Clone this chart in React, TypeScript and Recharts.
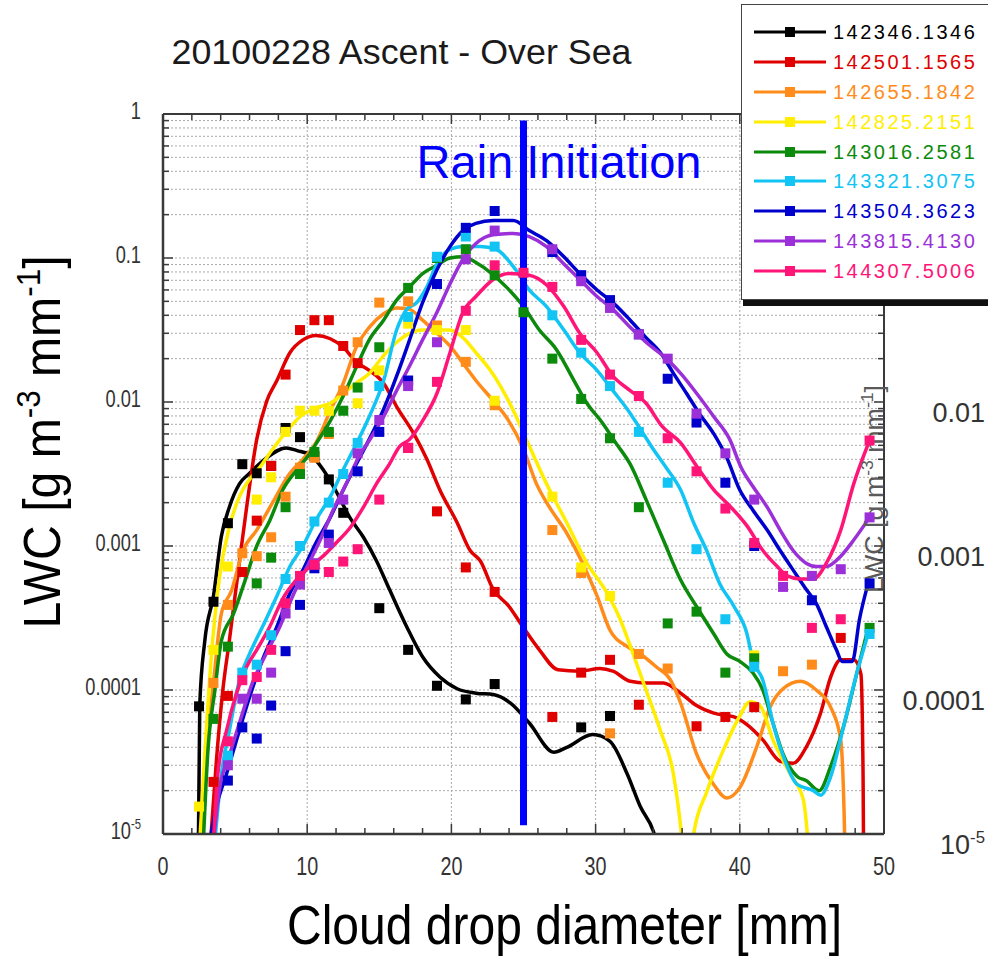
import React from 'react';
import { ComposedChart, Line, XAxis, YAxis, CartesianGrid, Legend, Label, LabelList } from 'recharts';

const FONT = "'Liberation Sans', Arial, Helvetica, sans-serif";
const FRAME = '#3a3a3a';

// Bin centres (x) and liquid water content per bin (y), one pair per marker
const blackBins = [[2.5, 7.7e-5], [3.5, 4.1e-4], [4.5, 1.44e-3], [5.5, 3.7e-3], [6.5, 3.2e-3], [7.5, 3.6e-3], [8.5, 6.6e-3], [9.5, 5.7e-3], [10.5, 4.2e-3], [11.5, 2.9e-3], [12.5, 1.7e-3], [15, 3.7e-4], [17, 1.9e-4], [19, 1.07e-4], [21, 8.6e-5], [23, 1.1e-4], [29, 5.5e-5], [31, 6.6e-5]];
const redBins = [[3.5, 2.3e-5], [4.5, 9.1e-5], [5.5, 6.6e-4], [6.5, 1.5e-3], [7.5, 3.6e-3], [8.5, 1.55e-2], [9.5, 3.16e-2], [10.5, 3.7e-2], [11.5, 3.7e-2], [12.5, 2.45e-2], [13.5, 1.86e-2], [17, 4.8e-3], [19, 1.74e-3], [21, 7.1e-4], [23, 4.8e-4], [27, 6.5e-5], [29, 1.32e-4], [31, 1.62e-4], [33, 7.9e-5], [37, 5.6e-5], [39, 6.5e-5], [41, 7.6e-5], [47, 2.3e-4]];
const orangeBins = [[3.5, 1.12e-4], [4.5, 3.9e-4], [5.5, 8.9e-4], [6.5, 8.5e-4], [7.5, 1.15e-3], [8.5, 2.2e-3], [9.5, 3.5e-3], [10.5, 4.1e-3], [11.5, 6.0e-3], [12.5, 1.2e-2], [13.5, 2.6e-2], [15, 4.9e-2], [17, 5.0e-2], [19, 3.4e-2], [21, 1.9e-2], [23, 9.5e-3], [27, 1.29e-3], [29, 6.5e-4], [31, 5.0e-5], [33, 1.78e-4], [35, 1.41e-4], [43, 1.35e-4], [45, 1.5e-4]];
const yellowBins = [[2.5, 1.55e-5], [3.5, 1.9e-4], [4.5, 7.2e-4], [6.5, 2.1e-3], [7.5, 3.0e-3], [8.5, 6.2e-3], [9.5, 8.7e-3], [10.5, 8.7e-3], [11.5, 8.7e-3], [13.5, 9.8e-3], [15, 1.66e-2], [17, 3.5e-2], [19, 3.16e-2], [21, 3.16e-2], [23, 1.02e-2], [27, 2.2e-3], [29, 7.1e-4], [31, 4.5e-4], [41, 1.74e-4]];
const greenBins = [[3.5, 6.3e-5], [4.5, 2.0e-4], [6.5, 5.5e-4], [7.5, 8.3e-4], [8.5, 1.86e-3], [9.5, 3.16e-3], [10.5, 4.5e-3], [11.5, 6.2e-3], [12.5, 8.7e-3], [13.5, 1.26e-2], [15, 2.4e-2], [17, 6.2e-2], [19, 0.1], [21, 0.115], [23, 7.6e-2], [25, 4.2e-2], [27, 2.0e-2], [29, 1.05e-2], [31, 5.6e-3], [33, 1.86e-3], [35, 2.9e-4], [37, 3.5e-4], [39, 1.32e-4], [41, 1.66e-4], [49, 2.7e-4]];
const cyanBins = [[4.5, 3.5e-5], [5.5, 1.32e-4], [6.5, 1.5e-4], [7.5, 2.4e-4], [8.5, 5.9e-4], [9.5, 1.0e-3], [10.5, 1.48e-3], [11.5, 2.0e-3], [12.5, 3.16e-3], [13.5, 5.2e-3], [15, 1.29e-2], [17, 3.9e-2], [19, 0.102], [21, 0.141], [23, 0.12], [27, 4.0e-2], [29, 2.2e-2], [31, 1.29e-2], [33, 6.2e-3], [35, 2.75e-3], [37, 9.5e-4], [39, 3.1e-4], [41, 1.45e-4], [49, 2.45e-4]];
const blueBins = [[4.5, 2.35e-5], [5.5, 5.5e-5], [6.5, 4.6e-5], [7.5, 7.8e-5], [8.5, 1.86e-4], [9.5, 3.9e-4], [10.5, 7.0e-4], [11.5, 1.2e-3], [13.5, 3.3e-3], [15, 6.2e-3], [17, 1.41e-2], [19, 6.6e-2], [21, 0.162], [23, 0.212], [27, 0.11], [29, 7.6e-2], [31, 5.1e-2], [33, 2.95e-2], [35, 1.45e-2], [37, 7.2e-3], [39, 2.75e-3], [41, 1.0e-3], [45, 4.2e-4], [49, 5.5e-4]];
const purpleBins = [[4.5, 3.0e-5], [5.5, 8.7e-5], [6.5, 8.7e-5], [7.5, 1.32e-4], [8.5, 3.4e-4], [9.5, 5.4e-4], [10.5, 7.6e-4], [11.5, 1.05e-3], [12.5, 2.1e-3], [13.5, 4.4e-3], [15, 7.5e-3], [17, 1.29e-2], [19, 2.6e-2], [21, 9.8e-2], [23, 0.155], [27, 0.115], [29, 6.9e-2], [31, 4.5e-2], [33, 2.95e-2], [35, 2.0e-2], [37, 8.3e-3], [39, 4.4e-3], [41, 2.1e-3], [43, 5.2e-4], [45, 6.2e-4], [47, 6.9e-4], [49, 1.58e-3]];
const pinkBins = [[4.5, 4.4e-5], [5.5, 1.17e-4], [6.5, 1.23e-4], [7.5, 1.9e-4], [8.5, 4.0e-4], [9.5, 6.2e-4], [10.5, 7.4e-4], [11.5, 6.6e-4], [12.5, 7.8e-4], [13.5, 9.5e-4], [15, 2.1e-3], [17, 4.8e-3], [19, 1.38e-2], [21, 4.3e-2], [23, 8.9e-2], [25, 7.9e-2], [27, 6.3e-2], [29, 2.7e-2], [31, 1.55e-2], [33, 1.1e-2], [35, 5.6e-3], [37, 3.3e-3], [39, 1.82e-3], [41, 1.05e-3], [43, 6.2e-4], [45, 2.7e-4], [47, 3.1e-4], [49, 5.4e-3]];

// Smoothed fits through each spectrum (values under 1e-5 run off the bottom of the frame)
const blackFit = [[2.45, 7.9e-6], [2.55, 7.9e-5], [2.9, 2.2e-4], [3.5, 4.5e-4], [4.05, 1.17e-3], [4.6, 1.86e-3], [5.3, 2.7e-3], [6.0, 3.2e-3], [7.05, 4.0e-3], [8.55, 4.8e-3], [9.3, 4.6e-3], [10.2, 4.3e-3], [11.1, 3.4e-3], [12.0, 2.4e-3], [12.95, 1.58e-3], [13.9, 1.15e-3], [14.8, 7.9e-4], [15.7, 5.0e-4], [16.9, 2.75e-4], [18.0, 1.7e-4], [19.2, 1.23e-4], [20.4, 1.02e-4], [21.7, 9.5e-5], [22.9, 9.3e-5], [24.1, 8.1e-5], [25.4, 5.9e-5], [27.1, 3.7e-5], [28.0, 4.0e-5], [29.8, 4.9e-5], [31.0, 4.4e-5], [32.2, 2.6e-5], [33.1, 1.55e-5], [34.0, 1.05e-5], [34.6, 6.3e-6]];
const redFit = [[3.3, 8.9e-6], [3.7, 3.2e-5], [4.15, 1.0e-4], [4.6, 2.2e-4], [5.2, 6.5e-4], [5.8, 1.86e-3], [6.5, 5.5e-3], [7.2, 1.02e-2], [7.9, 1.41e-2], [8.8, 2.2e-2], [9.7, 2.7e-2], [10.6, 2.9e-2], [11.6, 2.75e-2], [12.5, 2.4e-2], [13.4, 1.9e-2], [14.3, 1.66e-2], [15.3, 1.35e-2], [16.2, 9.3e-3], [17.4, 6.0e-3], [18.3, 4.0e-3], [19.2, 2.45e-3], [20.4, 1.45e-3], [21.3, 9.3e-4], [22.0, 7.9e-4], [22.9, 5.0e-4], [24.0, 3.8e-4], [24.8, 2.9e-4], [26.1, 1.9e-4], [27.4, 1.38e-4], [28.9, 1.35e-4], [30.3, 1.41e-4], [31.2, 1.35e-4], [32.4, 1.15e-4], [33.5, 1.12e-4], [34.7, 1.12e-4], [35.9, 9.5e-5], [37.0, 7.8e-5], [38.2, 6.9e-5], [39.6, 6.5e-5], [40.5, 5.75e-5], [41.6, 4.5e-5], [42.8, 3.2e-5], [43.7, 3.1e-5], [44.6, 4.0e-5], [45.6, 6.9e-5], [46.3, 1.23e-4], [47.0, 1.62e-4], [47.9, 1.62e-4], [48.4, 1.29e-4], [48.55, 2.5e-5], [48.6, 4e-6]];
const orangeFit = [[2.67, 8.9e-6], [3.0, 3.6e-5], [3.5, 1.12e-4], [4.05, 3.4e-4], [4.75, 4.9e-4], [5.55, 9.3e-4], [6.5, 1.29e-3], [7.6, 2.0e-3], [8.8, 3.2e-3], [9.7, 4.0e-3], [10.6, 5.2e-3], [11.6, 8.7e-3], [12.5, 1.35e-2], [13.4, 2.4e-2], [14.3, 3.3e-2], [15.3, 4.1e-2], [16.2, 4.5e-2], [17.1, 4.4e-2], [18.0, 3.7e-2], [19.0, 3.0e-2], [19.9, 2.45e-2], [20.8, 1.86e-2], [21.7, 1.41e-2], [22.9, 1.02e-2], [23.9, 7.6e-3], [25.0, 4.7e-3], [25.9, 2.7e-3], [26.8, 1.86e-3], [28.0, 1.23e-3], [29.1, 7.6e-4], [30.1, 4.5e-4], [31.0, 2.6e-4], [32.2, 2.0e-4], [33.1, 1.78e-4], [34.2, 1.45e-4], [35.2, 1.17e-4], [35.9, 8.1e-5], [37.0, 3.6e-5], [38.2, 2.2e-5], [39.1, 1.78e-5], [40.0, 2.1e-5], [41.2, 4.1e-5], [42.1, 7.6e-5], [43.0, 1.02e-4], [44.2, 1.15e-4], [45.3, 1.0e-4], [46.3, 7.6e-5], [47.0, 4.5e-5], [47.25, 1.2e-5], [47.35, 4e-6]];
const yellowFit = [[2.55, 8.9e-6], [2.9, 3.6e-5], [3.35, 1.7e-4], [3.9, 5.9e-4], [4.6, 1.35e-3], [5.3, 2.2e-3], [6.0, 2.9e-3], [6.7, 3.5e-3], [7.6, 4.7e-3], [8.6, 6.3e-3], [9.5, 7.9e-3], [10.6, 9.1e-3], [11.6, 9.8e-3], [12.5, 1.15e-2], [13.4, 1.35e-2], [14.3, 1.58e-2], [15.3, 2.1e-2], [16.2, 2.6e-2], [17.1, 3.0e-2], [18.0, 3.16e-2], [19.0, 3.16e-2], [19.9, 3.16e-2], [20.8, 2.8e-2], [21.7, 2.2e-2], [22.7, 1.66e-2], [23.4, 1.29e-2], [24.5, 7.9e-3], [25.2, 5.5e-3], [26.6, 2.7e-3], [28.0, 1.45e-3], [29.4, 7.6e-4], [30.8, 4.7e-4], [31.7, 3.1e-4], [32.6, 1.78e-4], [33.5, 1.0e-4], [34.5, 5.2e-5], [35.4, 2.6e-5], [36.0, 9e-6], [36.4, 3e-6], [36.8, 1e-5], [37.7, 1.95e-5], [38.9, 3.9e-5], [40.0, 6.6e-5], [40.7, 8.3e-5], [41.4, 7.8e-5], [42.3, 4.5e-5], [43.5, 2.6e-5], [44.4, 1.74e-5], [45.0, 4e-6]];
const greenFit = [[2.8, 8.9e-6], [3.1, 3.6e-5], [3.6, 1.0e-4], [4.05, 2.2e-4], [4.9, 3.4e-4], [5.7, 5.8e-4], [6.5, 1.0e-3], [7.4, 1.5e-3], [8.3, 2.45e-3], [9.3, 3.4e-3], [10.2, 4.4e-3], [10.6, 5.1e-3], [11.6, 7.4e-3], [12.5, 1.1e-2], [13.4, 1.74e-2], [14.3, 2.7e-2], [15.3, 3.7e-2], [16.2, 5.1e-2], [17.1, 6.3e-2], [18.0, 7.8e-2], [19.0, 8.9e-2], [19.9, 0.1], [20.8, 0.102], [21.7, 9.3e-2], [22.8, 7.8e-2], [23.8, 6.3e-2], [25.0, 4.6e-2], [26.1, 3.16e-2], [27.3, 2.3e-2], [28.5, 1.41e-2], [29.4, 9.8e-3], [30.5, 7.1e-3], [31.4, 5.2e-3], [32.4, 3.7e-3], [33.5, 2.1e-3], [34.7, 1.1e-3], [35.9, 5.8e-4], [37.0, 3.8e-4], [38.2, 2.45e-4], [39.1, 1.78e-4], [40.0, 1.58e-4], [40.9, 1.32e-4], [41.6, 1.0e-4], [42.3, 5.9e-5], [43.0, 3.6e-5], [44.0, 2.5e-5], [44.6, 2.35e-5], [45.5, 2.0e-5], [46.3, 2.95e-5], [47.2, 5.6e-5], [48.1, 1.29e-4], [48.9, 2.7e-4]];
const cyanFit = [[3.6, 8.9e-6], [4.05, 2.6e-5], [4.6, 5.2e-5], [5.3, 1.17e-4], [6.0, 1.78e-4], [6.9, 2.75e-4], [7.9, 4.5e-4], [8.8, 7.2e-4], [9.7, 1.0e-3], [10.6, 1.51e-3], [11.6, 2.2e-3], [12.5, 3.4e-3], [13.4, 5.1e-3], [14.3, 7.9e-3], [15.3, 1.41e-2], [16.2, 3.16e-2], [16.9, 4.4e-2], [17.6, 4.9e-2], [18.3, 6.3e-2], [19.0, 9.1e-2], [19.9, 0.115], [20.8, 0.12], [22.0, 0.12], [23.1, 0.115], [24.3, 8.7e-2], [25.4, 6.0e-2], [26.6, 4.6e-2], [27.8, 3.16e-2], [28.9, 2.2e-2], [30.1, 1.66e-2], [31.2, 1.2e-2], [32.2, 8.9e-3], [33.1, 6.5e-3], [34.0, 4.7e-3], [34.9, 3.5e-3], [35.9, 2.45e-3], [36.8, 1.45e-3], [37.7, 9.3e-4], [38.6, 5.5e-4], [39.6, 3.8e-4], [40.5, 2.45e-4], [40.9, 1.62e-4], [41.6, 1.17e-4], [42.3, 5.9e-5], [43.0, 3.5e-5], [44.0, 2.2e-5], [45.1, 2.0e-5], [45.6, 1.86e-5], [46.3, 2.5e-5], [47.2, 5.6e-5], [48.1, 1.29e-4], [48.9, 2.45e-4]];
const blueFit = [[3.24, 8.9e-6], [3.7, 1.55e-5], [4.4, 2.6e-5], [5.1, 4.5e-5], [6.0, 8.9e-5], [6.9, 1.62e-4], [7.9, 2.75e-4], [8.8, 4.7e-4], [9.7, 6.8e-4], [10.6, 1.05e-3], [11.6, 1.58e-3], [12.5, 2.45e-3], [13.4, 3.7e-3], [14.3, 5.5e-3], [15.3, 8.9e-3], [16.2, 1.51e-2], [17.1, 2.7e-2], [18.0, 4.9e-2], [19.0, 8.3e-2], [19.9, 0.12], [20.8, 0.155], [21.7, 0.174], [22.9, 0.182], [24.3, 0.182], [25.4, 0.155], [26.6, 0.132], [27.8, 0.102], [28.9, 7.8e-2], [30.1, 6.0e-2], [31.2, 4.9e-2], [32.4, 3.7e-2], [33.5, 2.8e-2], [34.5, 2.2e-2], [35.4, 1.58e-2], [36.3, 1.15e-2], [37.2, 8.3e-3], [38.2, 6.0e-3], [39.1, 4.1e-3], [40.0, 2.45e-3], [40.9, 1.78e-3], [41.9, 1.29e-3], [42.8, 9.3e-4], [43.7, 6.8e-4], [44.6, 5.0e-4], [45.3, 4.0e-4], [46.0, 2.75e-4], [46.7, 1.9e-4], [47.1, 1.58e-4], [47.8, 1.58e-4], [48.3, 3.1e-4], [48.9, 5.5e-4]];
const purpleFit = [[3.5, 8.9e-6], [3.9, 2.0e-5], [4.6, 3.5e-5], [5.3, 5.9e-5], [6.2, 1.12e-4], [7.2, 1.82e-4], [8.1, 2.75e-4], [9.0, 4.5e-4], [10.0, 7.2e-4], [10.9, 1.1e-3], [11.8, 1.78e-3], [12.7, 2.7e-3], [13.6, 4.2e-3], [14.4, 5.6e-3], [15.3, 7.9e-3], [16.2, 1.2e-2], [17.1, 1.78e-2], [18.0, 2.7e-2], [19.0, 4.2e-2], [19.9, 6.6e-2], [20.8, 9.8e-2], [21.7, 0.126], [22.9, 0.145], [24.3, 0.148], [25.4, 0.141], [26.6, 0.12], [27.8, 9.1e-2], [28.9, 7.1e-2], [30.1, 5.4e-2], [31.2, 4.4e-2], [32.4, 3.3e-2], [33.5, 2.6e-2], [34.9, 2.0e-2], [35.9, 1.58e-2], [37.0, 1.15e-2], [38.2, 7.9e-3], [39.3, 5.5e-3], [40.1, 3.5e-3], [40.9, 2.6e-3], [41.9, 1.86e-3], [42.8, 1.29e-3], [43.7, 9.3e-4], [44.6, 7.6e-4], [45.3, 7.2e-4], [46.0, 7.2e-4], [47.0, 8.5e-4], [47.9, 1.1e-3], [49.0, 1.58e-3]];
const pinkFit = [[3.5, 8.9e-6], [3.8, 2.6e-5], [4.4, 5.2e-5], [5.1, 9.5e-5], [5.8, 1.45e-4], [6.5, 1.9e-4], [7.4, 2.75e-4], [8.3, 4.3e-4], [9.3, 5.9e-4], [10.2, 7.2e-4], [11.1, 8.5e-4], [12.0, 1.05e-3], [13.0, 1.35e-3], [13.9, 1.86e-3], [14.8, 2.7e-3], [15.7, 3.7e-3], [16.4, 4.9e-3], [17.1, 5.5e-3], [18.0, 7.4e-3], [19.0, 1.15e-2], [19.9, 2.2e-2], [20.8, 4.2e-2], [21.7, 5.4e-2], [22.9, 7.1e-2], [24.0, 7.8e-2], [25.4, 7.6e-2], [26.6, 6.5e-2], [27.8, 4.6e-2], [28.9, 3.0e-2], [30.1, 2.2e-2], [31.2, 1.51e-2], [32.4, 1.2e-2], [33.5, 9.8e-3], [34.6, 6.8e-3], [35.9, 5.2e-3], [37.0, 3.6e-3], [38.2, 2.45e-3], [39.3, 1.9e-3], [40.5, 1.38e-3], [41.6, 9.3e-4], [42.6, 7.2e-4], [43.3, 6.2e-4], [44.2, 5.9e-4], [45.1, 5.9e-4], [46.0, 7.6e-4], [47.0, 1.29e-3], [47.9, 2.7e-3], [48.9, 5.1e-3]];

// Marker for the rain-initiation diameter
const rainInitiation = [[25, 0.9], [25, 1.15e-5]];

const series = [
  { name: '142346.1346', color: '#000000', fit: blackFit, bins: blackBins },
  { name: '142501.1565', color: '#E00000', fit: redFit, bins: redBins },
  { name: '142655.1842', color: '#FF8C1A', fit: orangeFit, bins: orangeBins },
  { name: '142825.2151', color: '#FFEE00', fit: yellowFit, bins: yellowBins },
  { name: '143016.2581', color: '#0B8A0B', fit: greenFit, bins: greenBins },
  { name: '143321.3075', color: '#12C4F4', fit: cyanFit, bins: cyanBins },
  { name: '143504.3623', color: '#0000CD', fit: blueFit, bins: blueBins },
  { name: '143815.4130', color: '#9B30D8', fit: purpleFit, bins: purpleBins },
  { name: '144307.5006', color: '#FF1577', fit: pinkFit, bins: pinkBins },
];

const decades = [1e-5, 1e-4, 1e-3, 1e-2, 1e-1, 1];
const decadeLabels = [{ base: '10', sup: '-5' }, { base: '0.0001' }, { base: '0.001' }, { base: '0.01' }, { base: '0.1' }, { base: '1' }];
const logTicks = decades
  .slice(0, -1)
  .flatMap((dec) => [1, 2, 3, 4, 5, 6, 7, 8, 9].map((m) => m * dec))
  .concat(1);
const xTicks = [0, 2, 4, 6, 8, 10, 12, 14, 16, 18, 20, 22, 24, 26, 28, 30, 32, 34, 36, 38, 40, 42, 44, 46, 48, 50];
const xGridTicks = [10, 20, 30, 40];

const toRows = (pairs: number[][]) => pairs.map(([d, lwc]) => ({ d, lwc }));

const decadeIndex = (v: number) => decades.findIndex((dec) => Math.abs(v / dec - 1) < 1e-6);

const tickText = (i: number, size: number) => {
  const lbl = decadeLabels[i];
  return (
    <>
      {lbl.base}
      {lbl.sup && (
        <tspan dy={-size * 0.42} fontSize={size * 0.62}>
          {lbl.sup}
        </tspan>
      )}
    </>
  );
};

const LEFT_GAP = 22;
const BOTTOM_GAP = 8;

const LeftTick = ({ x, y, payload }: any) => {
  const axisX = x + LEFT_GAP;
  const i = decadeIndex(payload.value);
  return (
    <g>
      <line x1={axisX} x2={axisX + (i >= 0 ? 10 : 6)} y1={y} y2={y} stroke={FRAME} strokeWidth={1.5} />
      {i >= 0 && (
        <text transform={`translate(${x},${y + 5}) scale(0.76,1)`} textAnchor="end" fontSize={24} fontFamily={FONT} fill="#333">
          {tickText(i, 24)}
        </text>
      )}
    </g>
  );
};

const RightTick = ({ x, y, payload }: any) => {
  const i = decadeIndex(payload.value);
  return (
    <g>
      <line x1={x} x2={x - (i >= 0 ? 10 : 6)} y1={y} y2={y} stroke={FRAME} strokeWidth={1.5} />
      {i >= 0 && (
        <text x={x + 101} y={y + 20} textAnchor="end" fontSize={27} fontFamily={FONT} fill="#333">
          {tickText(i, 27)}
        </text>
      )}
    </g>
  );
};

const BottomTick = ({ x, y, payload }: any) => {
  const axisY = y - BOTTOM_GAP;
  const major = payload.value % 10 === 0;
  return (
    <g>
      <line x1={x} x2={x} y1={axisY} y2={axisY - (major ? 10 : 6)} stroke={FRAME} strokeWidth={1.5} />
      {major && (
        <text transform={`translate(${x},${axisY + 41}) scale(0.76,1)`} textAnchor="middle" fontSize={26} fontFamily={FONT} fill="#333">
          {payload.value}
        </text>
      )}
    </g>
  );
};

const TopTick = ({ x, y, payload }: any) => {
  const major = payload.value % 10 === 0;
  return <line x1={x} x2={x} y1={y} y2={y + (major ? 10 : 6)} stroke={FRAME} strokeWidth={1.5} />;
};

const unitText = (supSize: number, shift: number) => (
  <>
    LWC [g m
    <tspan dy={-shift} fontSize={supSize}>-3</tspan>
    <tspan dy={shift}> mm</tspan>
    <tspan dy={-shift} fontSize={supSize}>-1</tspan>
    <tspan dy={shift}>]</tspan>
  </>
);

const ChartTitle = ({ viewBox }: any) => (
  <text x={viewBox.x + 8.5} y={viewBox.y - 49} fontSize={35} fontFamily={FONT} fill="#1a1a1a" textLength={460} lengthAdjust="spacingAndGlyphs">
    20100228 Ascent - Over Sea
  </text>
);

const XTitle = ({ viewBox }: any) => (
  <text x={viewBox.x + 124} y={viewBox.y + 110} fontSize={55} fontFamily={FONT} fill="#000" textLength={555} lengthAdjust="spacingAndGlyphs">
    Cloud drop diameter [mm]
  </text>
);

const YTitle = ({ viewBox }: any) => (
  <text
    transform={`translate(${viewBox.x - 23},${viewBox.y + viewBox.height / 2 - 32}) rotate(-90)`}
    textAnchor="middle"
    fontSize={52}
    fontFamily={FONT}
    fill="#000"
    textLength={373}
    lengthAdjust="spacingAndGlyphs"
  >
    {unitText(34, 20)}
  </text>
);

// faint copy of the unit label that sits against the right frame
const RightTitle = ({ viewBox }: any) => (
  <text
    transform={`translate(${viewBox.x - 1},${viewBox.y + 375}) rotate(-90)`}
    textAnchor="middle"
    fontSize={26}
    fontFamily={FONT}
    fill="#5a5a5a"
    textLength={208}
    lengthAdjust="spacingAndGlyphs"
  >
    {unitText(17, 10)}
  </text>
);

const RainLabel = (props: any) => {
  const { x, y, index } = props;
  if (index !== 0) return null;
  return (
    <text x={x - 107} y={y + 57} fontSize={47} fontFamily={FONT} fill="#0000FF" textLength={285} lengthAdjust="spacingAndGlyphs">
      Rain Initiation
    </text>
  );
};

const squareDot = (color: string) => (props: any) => {
  const { cx, cy, index } = props;
  if (cx == null || cy == null) return <g key={`sq-${index}`} />;
  return <rect key={`sq-${index}`} x={cx - 5} y={cy - 5} width={10} height={10} fill={color} />;
};

const LegendBox = () => (
  <div
    style={{
      background: '#fff',
      border: '1.5px solid #444',
      boxShadow: '2px 6px 0 #111',
      padding: '12px 0 13px 12px',
      width: 262,
      boxSizing: 'border-box',
    }}
  >
    {series.map((s) => (
      <div key={s.name} style={{ display: 'flex', alignItems: 'center', height: 29.9 }}>
        <svg width={72} height={12} style={{ display: 'block' }}>
          <line x1={0} x2={72} y1={6} y2={6} stroke={s.color} strokeWidth={3} />
          <rect x={31} y={1} width={10} height={10} fill={s.color} />
        </svg>
        <span style={{ marginLeft: 7, color: s.color, fontSize: 20, letterSpacing: 2.5, fontFamily: FONT, lineHeight: '20px' }}>{s.name}</span>
      </div>
    ))}
  </div>
);

export default function App() {
  return (
    <div style={{ position: 'absolute', left: 0, top: 0, width: 988, height: 957, overflow: 'hidden', background: '#fff' }}>
      <ComposedChart width={988} height={957} margin={{ top: 113, right: 4, bottom: 83, left: 83 }}>
        <CartesianGrid xAxisId="grid" stroke="#a9a9a9" strokeDasharray="2 2" />
        <XAxis xAxisId="grid" type="number" dataKey="d" domain={[0, 50]} ticks={xGridTicks} allowDataOverflow hide />
        <XAxis
          type="number"
          dataKey="d"
          domain={[0, 50]}
          ticks={xTicks}
          interval={0}
          allowDataOverflow
          height={40}
          tickSize={0}
          tickMargin={BOTTOM_GAP}
          tickLine={false}
          axisLine={{ stroke: FRAME, strokeWidth: 2.5 }}
          tick={BottomTick}
        >
          <Label content={XTitle} />
        </XAxis>
        <XAxis
          xAxisId="top"
          orientation="top"
          type="number"
          dataKey="d"
          domain={[0, 50]}
          ticks={xTicks}
          interval={0}
          allowDataOverflow
          height={1}
          tickSize={0}
          tickMargin={0}
          tickLine={false}
          axisLine={{ stroke: FRAME, strokeWidth: 2 }}
          tick={TopTick}
        >
          <Label content={ChartTitle} />
        </XAxis>
        <YAxis
          type="number"
          scale="log"
          domain={[1e-5, 1]}
          ticks={logTicks}
          interval={0}
          allowDataOverflow
          width={80}
          tickSize={0}
          tickMargin={LEFT_GAP}
          tickLine={false}
          axisLine={{ stroke: FRAME, strokeWidth: 2.5 }}
          tick={LeftTick}
        >
          <Label content={YTitle} />
        </YAxis>
        <YAxis
          yAxisId="right"
          orientation="right"
          type="number"
          scale="log"
          domain={[1e-5, 1]}
          ticks={logTicks}
          interval={0}
          allowDataOverflow
          width={100}
          tickSize={0}
          tickMargin={0}
          tickLine={false}
          axisLine={{ stroke: FRAME, strokeWidth: 2 }}
          tick={RightTick}
        >
          <Label content={RightTitle} />
        </YAxis>
        <Legend
          layout="horizontal"
          verticalAlign="middle"
          align="center"
          width={262}
          wrapperStyle={{ left: 741, top: 4 }}
          content={() => <LegendBox />}
        />
        {series.map((s) => [
          <Line
            key={`${s.name}-fit`}
            data={toRows(s.fit)}
            dataKey="lwc"
            type="monotone"
            stroke={s.color}
            strokeWidth={3.5}
            dot={false}
            activeDot={false}
            legendType="none"
            isAnimationActive={false}
          />,
          <Line
            key={`${s.name}-bins`}
            data={toRows(s.bins)}
            dataKey="lwc"
            stroke="none"
            strokeWidth={0}
            dot={squareDot(s.color)}
            activeDot={false}
            legendType="none"
            isAnimationActive={false}
          />,
        ])}
        <Line
          data={toRows(rainInitiation)}
          dataKey="lwc"
          type="linear"
          stroke="#0000FF"
          strokeWidth={7}
          dot={false}
          activeDot={false}
          legendType="none"
          isAnimationActive={false}
        >
          <LabelList dataKey="lwc" content={RainLabel} />
        </Line>
      </ComposedChart>
    </div>
  );
}
